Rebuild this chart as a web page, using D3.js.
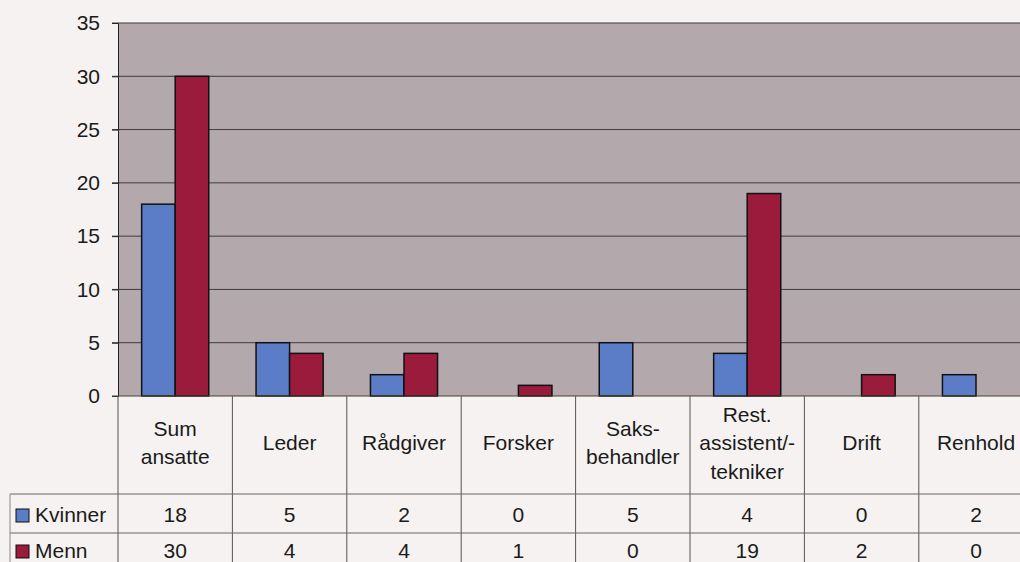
<!DOCTYPE html>
<html>
<head>
<meta charset="utf-8">
<script src="https://cdn.jsdelivr.net/npm/d3@7"></script>
<style>
  body { margin: 0; background: #f5f2f1; overflow: hidden; }
  svg { display: block; font-family: "Liberation Sans", Arial, sans-serif; }
</style>
</head>
<body>
<svg></svg>
<script>
// Data
var categories = [["Sum", "ansatte"], ["Leder"], ["Rådgiver"], ["Forsker"], ["Saks-", "behandler"], ["Rest.", "assistent/-", "tekniker"], ["Drift"], ["Renhold"]];
var series = ["Kvinner", "Menn"];
var kvinner = [18, 5, 2, 0, 5, 4, 0, 2];
var menn = [30, 4, 4, 1, 0, 19, 2, 0];
var yTicks = [0, 5, 10, 15, 20, 25, 30, 35];

var W = 1020, H = 562;
var plotLeft = 118, step = 114.4, plotTop = 23, plotBottom = 396;
var rowLines = [494, 533];
var fontSize = "21px";

var svg = d3.select("svg").attr("width", W).attr("height", H);

var keys = categories.map(c => c.join(" "));
var values = [kvinner, menn];

// Scales
var x = d3.scaleBand()
    .domain(keys)
    .range([plotLeft, plotLeft + step * keys.length]);

var xSub = d3.scaleBand()
    .domain(series)
    .range([0, x.bandwidth()])
    .paddingOuter(0.705);

var y = d3.scaleLinear()
    .domain([0, 35])
    .range([plotBottom, plotTop]);

var color = d3.scaleOrdinal()
    .domain(series)
    .range(["#5b7dc8", "#9b1b3d"]);

// Plot background
svg.append("rect")
    .attr("x", plotLeft)
    .attr("y", plotTop)
    .attr("width", x.range()[1] - plotLeft)
    .attr("height", plotBottom - plotTop)
    .attr("fill", "#b3a9ad");

// Gridlines
svg.selectAll("line.grid")
    .data(yTicks.filter(d => d > 0))
    .enter().append("line")
    .attr("class", "grid")
    .attr("x1", plotLeft - 6)
    .attr("x2", W)
    .attr("y1", d => y(d))
    .attr("y2", d => y(d))
    .attr("stroke", "#3e3a40")
    .attr("stroke-width", 1);

// Y axis
var yAxis = svg.append("g")
    .attr("transform", `translate(${plotLeft},0)`)
    .call(d3.axisLeft(y).tickValues(yTicks).tickSize(6).tickPadding(12));
yAxis.select(".domain").attr("stroke", "#222");
yAxis.selectAll(".tick line").attr("stroke", "#222");
yAxis.selectAll("text")
    .attr("fill", "#1a1a1a")
    .style("font-size", fontSize);

// Bars
series.forEach((s, i) => {
    svg.selectAll("rect.bar-" + i)
        .data(values[i].map((v, j) => ({key: keys[j], value: v})).filter(d => d.value > 0))
        .enter().append("rect")
        .attr("class", "bar-" + i)
        .attr("x", d => x(d.key) + xSub(s))
        .attr("y", d => y(d.value))
        .attr("width", xSub.bandwidth())
        .attr("height", d => plotBottom - y(d.value))
        .attr("fill", color(s))
        .attr("stroke", "#111")
        .attr("stroke-width", 1.5);
});

// Baseline
svg.append("line")
    .attr("x1", plotLeft - 6).attr("x2", W)
    .attr("y1", plotBottom).attr("y2", plotBottom)
    .attr("stroke", "#4a4430").attr("stroke-width", 1.2);

// Data table lines
var bounds = keys.map(k => x(k)).concat([x.range()[1]]);
svg.selectAll("line.col")
    .data(bounds)
    .enter().append("line")
    .attr("class", "col")
    .attr("x1", d => d).attr("x2", d => d)
    .attr("y1", plotBottom).attr("y2", H)
    .attr("stroke", "#555").attr("stroke-width", 1);

svg.selectAll("line.row")
    .data(rowLines)
    .enter().append("line")
    .attr("class", "row")
    .attr("x1", 10).attr("x2", W)
    .attr("y1", d => d).attr("y2", d => d)
    .attr("stroke", "#666").attr("stroke-width", 1);

svg.append("line")
    .attr("x1", 10).attr("x2", 10)
    .attr("y1", rowLines[0]).attr("y2", H)
    .attr("stroke", "#888").attr("stroke-width", 1);

// Category headers
var lh = 28.5, mid = 450;
categories.forEach((c, j) => {
    var t = svg.append("text")
        .attr("text-anchor", "middle")
        .attr("fill", "#1a1a1a")
        .style("font-size", fontSize);
    c.forEach((line, k) => {
        t.append("tspan")
            .attr("x", x(keys[j]) + x.bandwidth() / 2)
            .attr("y", mid - (c.length - 1) * lh / 2 + k * lh)
            .text(line);
    });
});

// Table values and legend
var rowBase = [522, 558];
series.forEach((s, i) => {
    svg.append("rect")
        .attr("x", 16).attr("y", rowBase[i] - 13)
        .attr("width", 13).attr("height", 13)
        .attr("fill", color(s))
        .attr("stroke", "#111").attr("stroke-width", 1);
    svg.append("text")
        .attr("x", 35).attr("y", rowBase[i])
        .attr("fill", "#1a1a1a")
        .style("font-size", fontSize)
        .text(s);
    svg.selectAll("text.val-" + i)
        .data(values[i])
        .enter().append("text")
        .attr("class", "val-" + i)
        .attr("x", (d, j) => x(keys[j]) + x.bandwidth() / 2)
        .attr("y", rowBase[i])
        .attr("text-anchor", "middle")
        .attr("fill", "#1a1a1a")
        .style("font-size", fontSize)
        .text(d => d);
});
</script>
</body>
</html>
